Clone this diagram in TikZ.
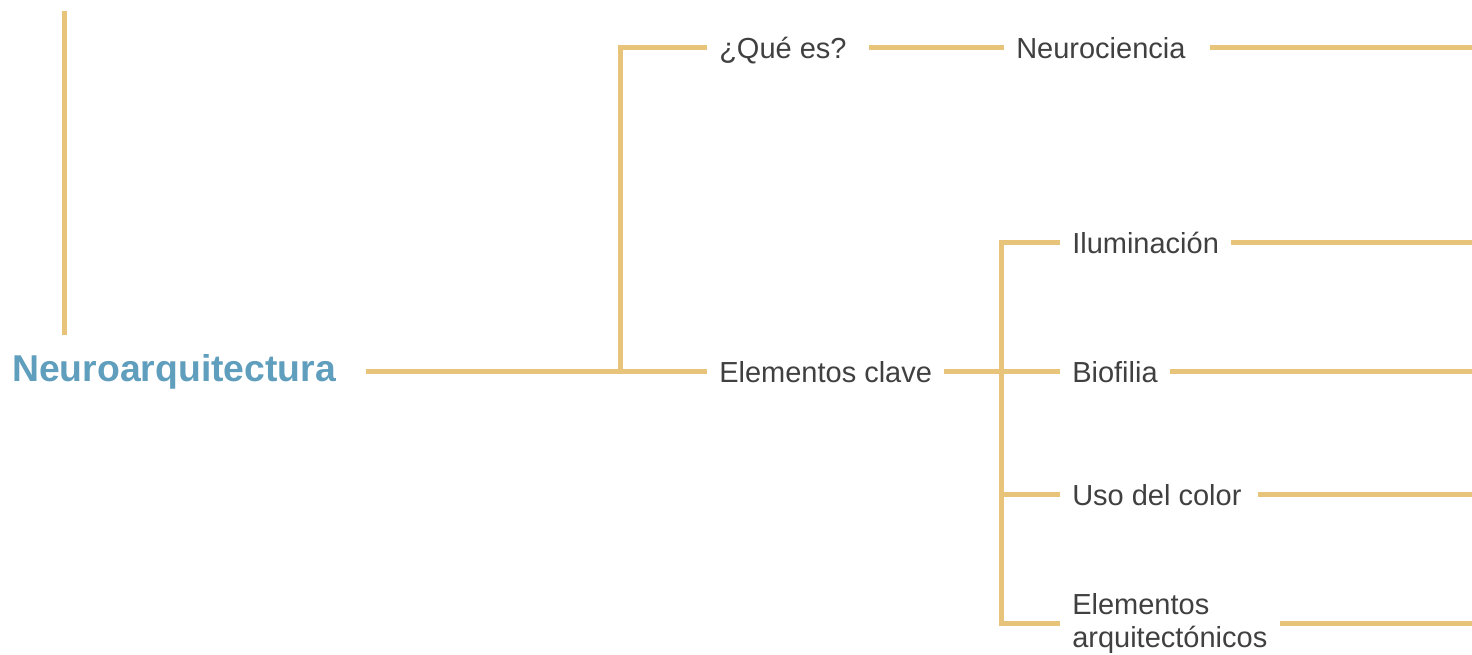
\documentclass[tikz,border=0pt]{standalone}
\usepackage{fontspec}
\setmainfont{Liberation Sans}
\usepackage{tikz}
\usetikzlibrary{positioning}

\definecolor{goldline}{RGB}{232,195,122}
\definecolor{titleblue}{RGB}{95,158,188}
\definecolor{textgray}{RGB}{64,64,64}

\tikzset{
  branch/.style={draw=goldline,line width=3.75pt},
  topic/.style={anchor=west,inner xsep=9pt,inner ysep=0pt,text=textgray,
    font=\fontsize{21.75}{24.75}\selectfont,text height=15.6pt,text depth=0pt},
  twoline/.style={anchor=west,inner xsep=9pt,inner ysep=0pt,text=textgray,
    font=\fontsize{21.75}{24.75}\selectfont,align=left},
  titlebox/.style={anchor=west,inner xsep=9pt,inner ysep=0pt,text=titleblue,
    font=\fontsize{28}{32}\selectfont\bfseries,text height=20pt,text depth=0pt}
}

\begin{document}
\begin{tikzpicture}[x=0.75pt,y=-0.75pt]
  \useasboundingbox (0,0) rectangle (1472,655);
  % nodes
  \node[titlebox] (root) at (0,368) {Neuroarquitectura};
  \node[topic] (que) at (707,48) {¿Qué es?};
  \node[topic] (neuro) at (1004,48) {Neurociencia};
  \node[topic] (clave) at (707,372) {Elementos clave};
  \node[topic] (ilum) at (1060,243) {Iluminación};
  \node[topic] (bio) at (1060,372) {Biofilia};
  \node[topic] (uso) at (1060,495) {Uso del color};
  \node[twoline] (arq) at (1060,624) {Elementos\\arquitectónicos};
  % junctions and free ends
  \coordinate (stem) at (64,11);
  \coordinate (jc) at (620,372);
  \coordinate (jx) at (1001,0);
  \coordinate (rim) at (1472,0);
  % connectors
  \draw[branch,shorten >=14.25pt] (stem) -- (stem |- root.north);
  \draw[branch,shorten <=13.5pt] (root.east |- jc) -- (clave.west);
  \draw[branch] (que.west) -| (jc);
  \draw[branch,shorten <=7.5pt] (que.east) -- (neuro.west);
  \draw[branch,shorten <=9pt] (neuro.east) -- (neuro.east -| rim);
  \draw[branch] (clave.east) -- (bio.west);
  \draw[branch] (ilum.west) -| (jx |- arq.west) -- (arq.west);
  \draw[branch] (uso.west) -- (uso.west -| jx);
  \draw[branch] (ilum.east) -- (ilum.east -| rim);
  \draw[branch] (bio.east) -- (bio.east -| rim);
  \draw[branch,shorten <=3pt] (uso.east) -- (uso.east -| rim);
  \draw[branch] (arq.east) -- (arq.east -| rim);
\end{tikzpicture}
\end{document}
